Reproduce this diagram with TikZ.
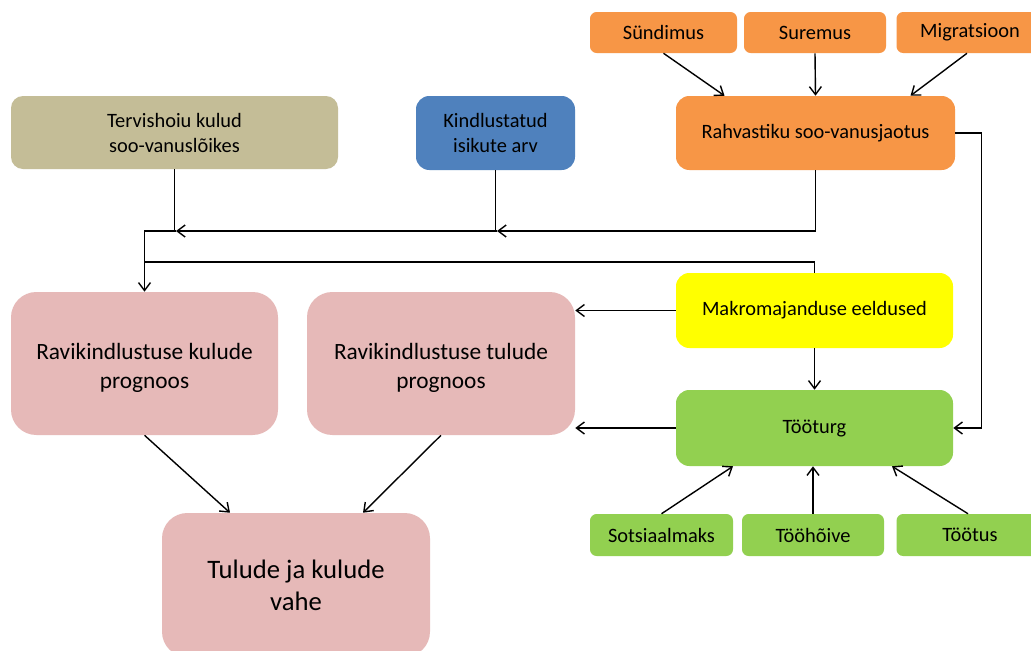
\documentclass[tikz,border=0pt]{standalone}
\usepackage{fontspec}
\setmainfont{Carlito}
\usetikzlibrary{arrows.meta}
\newdimen\pxu \pxu=0.75pt
\definecolor{corange}{HTML}{F79646}
\definecolor{ctan}{HTML}{C4BD97}
\definecolor{cblue}{HTML}{4F81BD}
\definecolor{cpink}{HTML}{E6B9B8}
\definecolor{cyellow}{HTML}{FFFF00}
\definecolor{cgreen}{HTML}{92D050}
\tikzset{
  box/.style={inner sep=0pt, align=center, text=black, font=\fontsize{15.3}{18.75}\selectfont},
  bigbox/.style={box, rounded corners=19pt, fill=cpink, font=\fontsize{17.5}{21.75}\selectfont},
  arr/.style={-{Straight Barb[length=6pt,width=9pt]}, line width=1.05pt},
  ln/.style={line width=1.05pt}
}
\begin{document}
\begin{tikzpicture}[x=0.75pt,y=-0.75pt]
\clip (0,0) rectangle (1031,650);
\fill[white] (0,0) rectangle (1031,650);
% top orange
\node[box, fill=corange, rounded corners=5pt, minimum width=147\pxu, minimum height=41\pxu] (sund) at (663.5,32.5) {Sündimus};
\node[box, fill=corange, rounded corners=5pt, minimum width=142\pxu, minimum height=41\pxu] (surem) at (815,32.5) {Suremus};
\node[box, fill=corange, rounded corners=5pt, minimum width=147\pxu, minimum height=41\pxu] (migr) at (970,32.5) {Migratsioon};
\node[box, fill=corange, rounded corners=10pt, minimum width=279\pxu, minimum height=74\pxu] (rahv) at (815.5,133) {Rahvastiku soo-vanusjaotus};
\node[box, fill=ctan, rounded corners=9pt, minimum width=327\pxu, minimum height=73\pxu] (terv) at (174.5,132.5) {Tervishoiu kulud\\soo-vanuslõikes};
\node[box, fill=cblue, rounded corners=10pt, minimum width=159\pxu, minimum height=74\pxu] (kind) at (495.5,133) {Kindlustatud\\isikute arv};
\node[box, fill=cyellow, rounded corners=10pt, minimum width=277\pxu, minimum height=75\pxu] (makro) at (814.5,310.5) {Makromajanduse eeldused};
\node[box, fill=cgreen, rounded corners=10pt, minimum width=277\pxu, minimum height=76\pxu] (tooturg) at (814.5,428) {Tööturg};
\node[bigbox, minimum width=267\pxu, minimum height=143\pxu] (rkul) at (144.5,363.5) {\\[-4\pxu]Ravikindlustuse kulude\\prognoos};
\node[bigbox, minimum width=268\pxu, minimum height=143\pxu] (rtul) at (441,363.5) {\\[-4\pxu]Ravikindlustuse tulude\\prognoos};
\node[bigbox, font=\fontsize{20}{24}\selectfont, minimum width=268\pxu, minimum height=144\pxu] (vahe) at (296,585) {Tulude ja kulude\\vahe};
\node[box, fill=cgreen, rounded corners=5pt, minimum width=143\pxu, minimum height=42\pxu] (sots) at (661.5,535) {Sotsiaalmaks};
\node[box, fill=cgreen, rounded corners=5pt, minimum width=142\pxu, minimum height=42\pxu] (tooh) at (813,535) {Tööhõive};
\node[box, fill=cgreen, rounded corners=5pt, minimum width=147\pxu, minimum height=42\pxu] (toot) at (970,535) {Töötus};
% connectors top
\draw[arr] (sund.south) -- ([xshift=-91\pxu]rahv.north);
\draw[arr] (surem.south) -- (rahv.north);
\draw[arr] ([xshift=-3\pxu]migr.south) -- ([xshift=95\pxu]rahv.north);
% left network
\coordinate (h1) at (176,231);
\coordinate (h2) at (497,231);
\coordinate (c2) at (144.5,262);
\draw[ln] (terv.south) -- (terv.south |- h1);
\draw[ln] (kind.south) -- (kind.south |- h1);
\draw[arr] (rahv.south) |- (h2);
\draw[arr] (h2) -- (h1);
\draw[arr] (h1) -| (rkul.north);
\draw[ln] (makro.north) |- (c2);
% right network
\draw[arr] (rahv.east) -- ++(26,0) |- (tooturg.east);
\draw[arr] (makro.south) -- (tooturg.north);
\draw[arr] (makro.west) -- (rtul.east |- makro.west);
\draw[arr] (tooturg.west) -- (rtul.east |- tooturg.west);
% to bottom
\draw[arr] (rkul.south) -- ([xshift=-66\pxu]vahe.north);
\draw[arr] (rtul.south) -- ([xshift=67\pxu]vahe.north);
% bottom green
\draw[arr] (sots.north) -- ([xshift=-81.5\pxu]tooturg.south);
\draw[arr] (tooh.north) -- (tooh.north |- tooturg.south);
\draw[arr] ([xshift=-2\pxu]toot.north) -- ([xshift=77.5\pxu]tooturg.south);
\end{tikzpicture}
\end{document}
